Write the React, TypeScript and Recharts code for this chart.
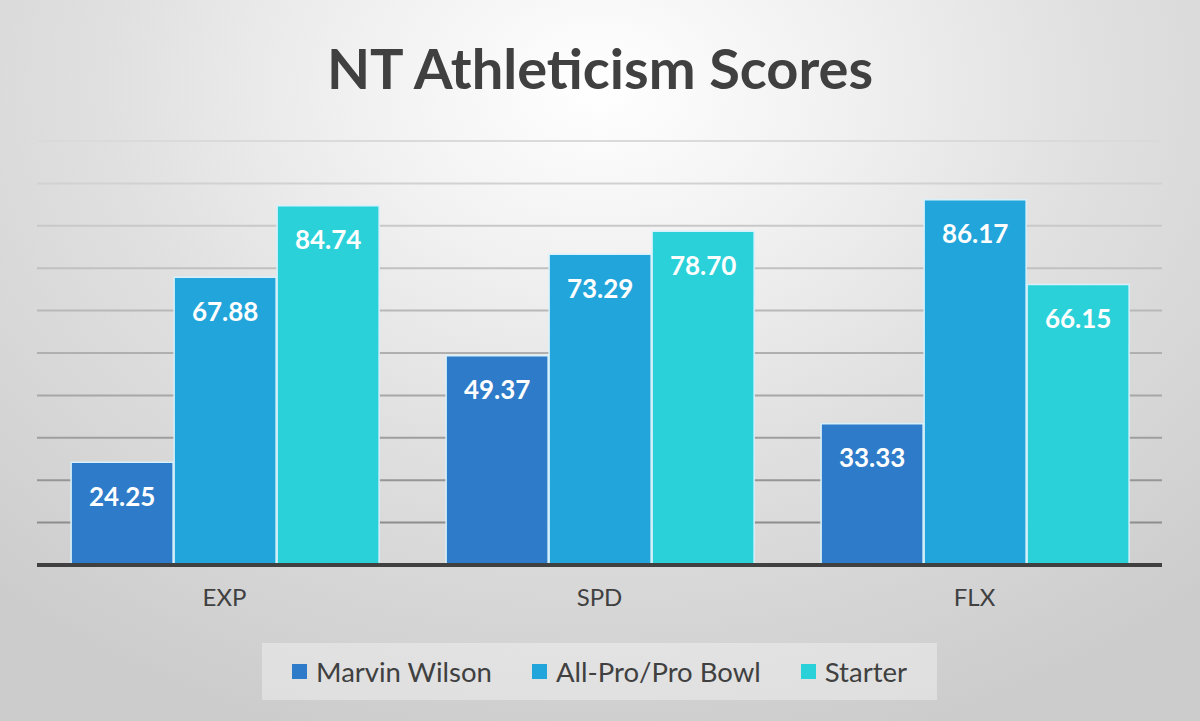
import React from 'react';
import { BarChart, Bar, XAxis, YAxis, CartesianGrid, LabelList, Legend } from 'recharts';

const categories = ['EXP', 'SPD', 'FLX'];
const marvinWilson = [24.25, 49.37, 33.33];
const allPro = [67.88, 73.29, 86.17];
const starter = [84.74, 78.7, 66.15];
const yTicks = [0, 10, 20, 30, 40, 50, 60, 70, 80, 90, 100];

const seriesInfo = [
  { key: 'marvin', name: 'Marvin Wilson', color: '#2d7bc9' },
  { key: 'allpro', name: 'All-Pro/Pro Bowl', color: '#22a5da' },
  { key: 'starter', name: 'Starter', color: '#2bd1d9' },
];

const data = categories.map((c, i) => ({
  cat: c,
  marvin: marvinWilson[i],
  allpro: allPro[i],
  starter: starter[i],
}));

const W = 1200;
const H = 721;

const LegendContent = () => (
  <div
    style={{
      width: 675,
      height: 57,
      background: 'rgba(255,255,255,0.35)',
      display: 'flex',
      alignItems: 'center',
      justifyContent: 'center',
      gap: 40,
      fontFamily: 'Lato, sans-serif',
      fontSize: 27.5,
      color: '#404040',
    }}
  >
    {seriesInfo.map((s) => (
      <div key={s.key} style={{ display: 'flex', alignItems: 'center' }}>
        <span style={{ width: 15, height: 15, background: s.color, marginRight: 9, display: 'inline-block' }} />
        <span>{s.name}</span>
      </div>
    ))}
  </div>
);

const fmt = (v: any) => Number(v).toFixed(2);

export default function App() {
  return (
    <div
      style={{
        position: 'absolute',
        left: 0,
        top: 0,
        width: W,
        height: H,
        overflow: 'hidden',
        background:
          'radial-gradient(ellipse 75% 95% at 50% 12%, #ffffff 0%, #f2f2f2 25%, #e0e0e0 55%, #cccccc 100%)',
      }}
    >
      <div
        style={{
          position: 'absolute',
          top: 30,
          left: 0,
          width: W,
          textAlign: 'center',
          fontFamily: 'Lato, sans-serif',
          fontWeight: 700,
          fontSize: 56,
          color: '#404040',
          lineHeight: '76px',
        }}
      >
        NT Athleticism Scores
      </div>
      <BarChart
        width={W}
        height={H}
        data={data}
        margin={{ top: 141, right: 38, left: 37, bottom: 96 }}
        barCategoryGap="9.1%"
        barGap={1}
        style={{ position: 'absolute', left: 0, top: 0 }}
      >
        <defs>
          <linearGradient id="gridGrad" gradientUnits="userSpaceOnUse" x1="0" y1="141" x2="0" y2="565">
            <stop offset="0%" stopColor="#dadada" />
            <stop offset="100%" stopColor="#858585" />
          </linearGradient>
        </defs>
        <CartesianGrid vertical={false} stroke="url(#gridGrad)" strokeWidth={2} />
        <YAxis hide domain={[0, 100]} ticks={yTicks} />
        <XAxis
          dataKey="cat"
          height={60}
          tickLine={false}
          axisLine={{ stroke: '#404040', strokeWidth: 4 }}
          tick={{ fill: '#404040', fontSize: 24, fontFamily: 'Lato, sans-serif' }}
          tickMargin={18}
        />
        <Legend
          layout="horizontal"
          verticalAlign="middle"
          align="center"
          wrapperStyle={{ top: 643, left: 262, width: 675, height: 57 }}
          content={<LegendContent />}
        />
        {seriesInfo.map((s) => (
          <Bar
            key={s.key}
            dataKey={s.key}
            name={s.name}
            fill={s.color}
            stroke="#d6f1fb"
            strokeWidth={1.5}
            isAnimationActive={false}
          >
            <LabelList
              dataKey={s.key}
              position="insideTop"
              offset={25}
              formatter={fmt}
              fill="#ffffff"
              style={{ fontFamily: 'Lato, sans-serif', fontWeight: 700, fontSize: 26 }}
            />
          </Bar>
        ))}
      </BarChart>
    </div>
  );
}
